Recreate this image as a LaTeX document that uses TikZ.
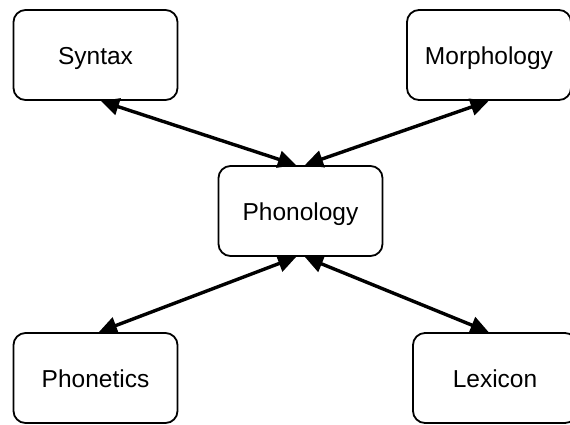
\documentclass[tikz,border=0pt]{standalone}
\usepackage{fontspec}
\setmainfont{Liberation Sans}
\usetikzlibrary{arrows.meta,calc}
\begin{document}
\begin{tikzpicture}[x=1pt,y=-1pt,
  box/.style={draw=black,line width=1.8pt,rounded corners=12pt,fill=white,
    minimum width=164pt,minimum height=90pt,inner sep=0pt,
    text height=24pt,text depth=5.5pt,
    font=\fontsize{24.5}{28}\selectfont},
  link/.style={line width=3.4pt,{Triangle[length=18pt,width=17pt]}-{Triangle[length=18pt,width=17pt]},shorten <=0.5pt,shorten >=0.5pt}]
\useasboundingbox (0,0) rectangle (570,424);
\begin{scope}
\clip (0,0) rectangle (570,424);
\node[box] (syn) at (95.5,55) {Syntax};
\node[box] (mor) at (489,55) {Morphology};
\node[box] (pho) at (300.5,211) {Phonology};
\node[box] (pht) at (95.5,378) {Phonetics};
\node[box] (lex) at (495,378) {Lexicon};
\coordinate (pnl) at ($(pho.north)+(-4,0)$);
\coordinate (pnr) at ($(pho.north)+(4,0)$);
\coordinate (psl) at ($(pho.south)+(-4,0)$);
\coordinate (psr) at ($(pho.south)+(4,0)$);
\coordinate (syns) at ($(syn.south)+(5,0)$);
\coordinate (phtn) at ($(pht.north)+(3,0)$);
\coordinate (lexn) at ($(lex.north)+(-6,0)$);
\draw[link] (syns) -- (pnl);
\draw[link] (mor.south) -- (pnr);
\draw[link] (phtn) -- (psl);
\draw[link] (lexn) -- (psr);
\end{scope}
\end{tikzpicture}
\end{document}
